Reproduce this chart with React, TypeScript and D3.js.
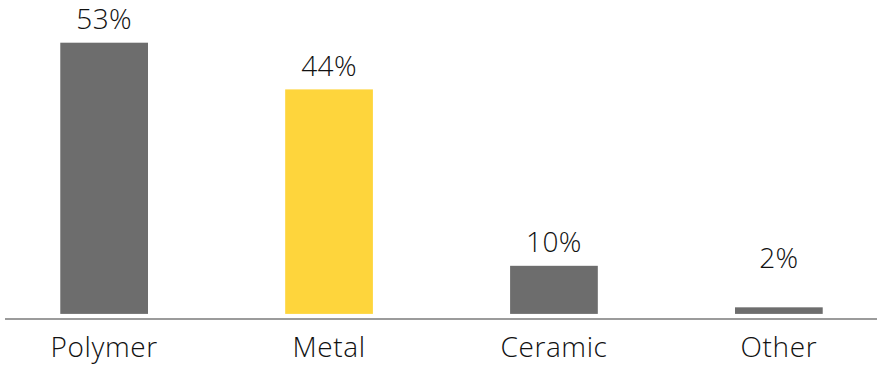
import React from "react";
import * as d3 from "d3";

const categories = ["Polymer", "Metal", "Ceramic", "Other"];
const values = [53, 44, 10, 2];
const valueLabels = ["53%", "44%", "10%", "2%"];
const barColors = ["#6d6d6d", "#fed53c", "#6d6d6d", "#6d6d6d"];

const W = 877;
const H = 365;
const FONT = "'Open Sans', 'DejaVu Sans', sans-serif";

export default function App() {
  const x = d3
    .scaleBand<string>()
    .domain(categories)
    .range([15.3, 867.7])
    .paddingInner(0.61)
    .paddingOuter(0.2);
  const y = d3.scaleLinear().domain([0, 53]).range([317.7, 42.7]);
  const baseGap = 3.8;
  const labelFloor = 7;
  const labelGap = 13.4;
  const axisY = 319;

  return (
    <svg
      width={W}
      height={H}
      style={{ position: "absolute", left: 0, top: 0, background: "#fff" }}
      fontFamily={FONT}
    >
      {categories.map((c, i) => {
        const x0 = x(c)!;
        const bw = x.bandwidth();
        const top = y(values[i]);
        const bottom = y(0) - baseGap;
        const cx = x0 + bw / 2;
        const ly = Math.min(top, y(labelFloor)) - labelGap;
        return (
          <g key={c}>
            <rect x={x0} y={top} width={bw} height={bottom - top} fill={barColors[i]} />
            <text x={cx} y={ly} textAnchor="middle" fontSize={28} fontWeight={340} letterSpacing={0.4} fill="#111">
              {valueLabels[i]}
            </text>
            <text x={cx} y={356.5} textAnchor="middle" fontSize={28} fontWeight={340} letterSpacing={0.6} fill="#111">
              {c}
            </text>
          </g>
        );
      })}
      <line x1={5} x2={W} y1={axisY} y2={axisY} stroke="#7a7a7a" strokeWidth={1.6} />
    </svg>
  );
}
